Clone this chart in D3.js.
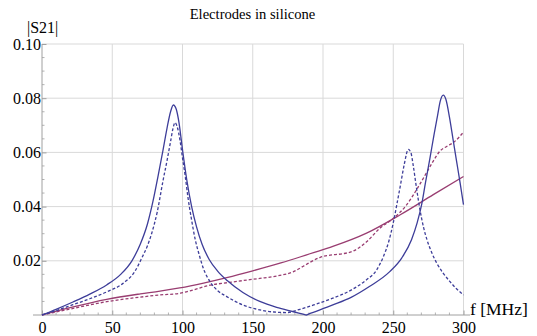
<!DOCTYPE html>
<html>
<head>
<meta charset="utf-8">
<script src="https://cdn.jsdelivr.net/npm/d3@7"></script>
<style>
  html, body { margin: 0; padding: 0; background: #fff; }
  svg { display: block; }
  svg text { font-family: "Liberation Serif", "Times New Roman", serif !important; fill: #000; }
</style>
</head>
<body>
<svg id="chart" width="537" height="336"></svg>
<script>
// ---- data (f in MHz, |S21|) ----
const title = "Electrodes in silicone";
const xTicks = [0, 50, 100, 150, 200, 250, 300];
const yTicks = [0.02, 0.04, 0.06, 0.08, 0.10];

const blueSolid = [[0,0],[10,0.0021],[22,0.0048],[34,0.0077],[46,0.0111],[56,0.0150],[64,0.0200],[70,0.0262],[75,0.0335],[79,0.0420],[82.5,0.0510],[86,0.0605],[89,0.0690],[91.5,0.0750],[93.5,0.0775],[95.5,0.0760],[97.5,0.0710],[100,0.0610],[103,0.0500],[106.5,0.0400],[110,0.0325],[114,0.0260],[119,0.0205],[125,0.0162],[132,0.0126],[143,0.0083],[155,0.0050],[167,0.0028],[179,0.0012],[186.5,0.0002],[188,0],[190,0.0004],[207,0.0037],[220,0.0065],[233,0.0105],[247.5,0.0160],[256,0.0210],[263,0.0278],[267,0.0340],[270.2,0.0407],[273,0.0490],[276,0.0575],[279,0.0665],[281.5,0.0735],[283.5,0.0790],[285.6,0.0811],[287.5,0.0795],[290,0.0730],[292.5,0.0650],[295,0.0570],[297.5,0.0490],[300,0.0407]];

const blueDashed = [[0,0],[10,0.0016],[22,0.0038],[34,0.0060],[46,0.0085],[58,0.0118],[66,0.0160],[71,0.0210],[75,0.0255],[78,0.0300],[82,0.0380],[86.3,0.0500],[89,0.0570],[91.5,0.0640],[93.3,0.0690],[94.7,0.0710],[96.2,0.0695],[98.2,0.0645],[100,0.0580],[102,0.0510],[104,0.0430],[106.5,0.0350],[109,0.0280],[112,0.0220],[115,0.0170],[120,0.0120],[125,0.0090],[131.5,0.0068],[143,0.0037],[155,0.0019],[165,0.0011],[174,0.0009],[183.6,0.0021],[195,0.0040],[207,0.0062],[220,0.0092],[231,0.0130],[238,0.0165],[243,0.0216],[247,0.0275],[250,0.0340],[253,0.0420],[255.5,0.0490],[258,0.0560],[260.7,0.0611],[262.5,0.0600],[264.3,0.0549],[266.5,0.0470],[269,0.0389],[271.5,0.0325],[274,0.0278],[277,0.0235],[281,0.0191],[285,0.0158],[290.4,0.0123],[295,0.0097],[300,0.0074]];

const purpleSolid = [[0,0],[20,0.0027],[46,0.0058],[70,0.0078],[84,0.0088],[98,0.0100],[115,0.0118],[131.5,0.0138],[150,0.0163],[170,0.0192],[183.6,0.0214],[190.7,0.0226],[207,0.0253],[231,0.0302],[255,0.0370],[278.5,0.0444],[300,0.0511]];

const purpleDashed = [[0,0],[20,0.0022],[46,0.0049],[70,0.0066],[84,0.0074],[98,0.0080],[108,0.0093],[119.6,0.0110],[131.5,0.0119],[143,0.0127],[155,0.0135],[167,0.0144],[179,0.0160],[186,0.0180],[191,0.0195],[198,0.0213],[207,0.0222],[214,0.0226],[221.6,0.0236],[231,0.0270],[240.6,0.0321],[250,0.0356],[259.6,0.0407],[266.7,0.0463],[272,0.0510],[278.5,0.0568],[283.3,0.0605],[288,0.0622],[292.7,0.0636],[300,0.0675]];

// ---- layout ----
const svg = d3.select("#chart");
const x = d3.scaleLinear().domain([0, 300]).range([42, 463.5]);
const y = d3.scaleLinear().domain([0, 0.1]).range([315, 44]);

const gridColor = "#d9d9d9";
const axisColor = "#a0a0a0";
const blue = "#3d3d99";
const purple = "#993d71";
const serif = "'Liberation Serif', 'Times New Roman', serif";

// grid
svg.append("g").selectAll("line").data(xTicks.filter(d => d > 0)).join("line")
  .attr("x1", d => x(d)).attr("x2", d => x(d))
  .attr("y1", y(0)).attr("y2", y(0.1))
  .attr("stroke", gridColor).attr("stroke-width", 1);
svg.append("g").selectAll("line").data(yTicks).join("line")
  .attr("x1", x(0)).attr("x2", x(300))
  .attr("y1", d => y(d)).attr("y2", d => y(d))
  .attr("stroke", gridColor).attr("stroke-width", 1);

// minor ticks
const xMinor = d3.range(0, 301, 10).filter(d => d % 50 !== 0);
const yMinor = d3.range(0, 0.1001, 0.005).filter(d => Math.abs(d / 0.02 - Math.round(d / 0.02)) > 1e-6);
svg.append("g").selectAll("line").data(xMinor).join("line")
  .attr("x1", d => x(d)).attr("x2", d => x(d))
  .attr("y1", y(0)).attr("y2", y(0) - 2.5)
  .attr("stroke", axisColor).attr("stroke-width", 0.8);
svg.append("g").selectAll("line").data(yMinor).join("line")
  .attr("x1", x(0)).attr("x2", x(0) + 2.5)
  .attr("y1", d => y(d)).attr("y2", d => y(d))
  .attr("stroke", axisColor).attr("stroke-width", 0.8);

// axes
const xAxis = d3.axisBottom(x).tickValues(xTicks).tickSize(-4.5).tickPadding(7).tickFormat(d3.format("d"));
const gx = svg.append("g").attr("transform", `translate(0,${y(0)})`).call(xAxis)
  .attr("font-family", serif).attr("font-size", 16);
gx.select(".domain").remove();
gx.selectAll(".tick line").attr("stroke", axisColor);
gx.selectAll(".tick text").style("font-family", serif).style("font-size", "16px").attr("fill", "#000");

const yAxis = d3.axisLeft(y).tickValues(yTicks).tickSize(-4.5).tickPadding(1).tickFormat(d3.format(".2f"));
const gy = svg.append("g").attr("transform", `translate(${x(0)},0)`).call(yAxis)
  .attr("font-family", serif).attr("font-size", 16);
gy.select(".domain").remove();
gy.selectAll(".tick line").attr("stroke", axisColor);
gy.selectAll(".tick text").style("font-family", serif).style("font-size", "16px").attr("fill", "#000");

// axis lines
svg.append("line").attr("x1", 33).attr("x2", 470).attr("y1", y(0)).attr("y2", y(0))
  .attr("stroke", axisColor).attr("stroke-width", 1);
svg.append("line").attr("x1", x(0)).attr("x2", x(0)).attr("y1", y(0)).attr("y2", y(0.1))
  .attr("stroke", axisColor).attr("stroke-width", 1);

// curves
const line = d3.line().x(d => x(d[0])).y(d => y(d[1])).curve(d3.curveMonotoneX);
const series = [
  { data: purpleSolid, color: purple, dash: null },
  { data: purpleDashed, color: purple, dash: "3,2" },
  { data: blueDashed, color: blue, dash: "3,2" },
  { data: blueSolid, color: blue, dash: null }
];
svg.append("g").selectAll("path").data(series).join("path")
  .attr("d", s => line(s.data))
  .attr("fill", "none")
  .attr("stroke", s => s.color)
  .attr("stroke-width", 1.3)
  .attr("stroke-dasharray", s => s.dash);

// labels
svg.append("text").attr("x", 252.5).attr("y", 18.5).attr("text-anchor", "middle")
  .style("font-family", serif).style("font-size", "14.6px").text(title);
svg.append("text").attr("x", 27).attr("y", 33).style("font-family", serif).style("font-size", "16px").text("|S21|");
svg.append("text").attr("x", 470).attr("y", 315).style("font-family", serif).style("font-size", "17.5px").text("f [MHz]");
</script>
</body>
</html>
